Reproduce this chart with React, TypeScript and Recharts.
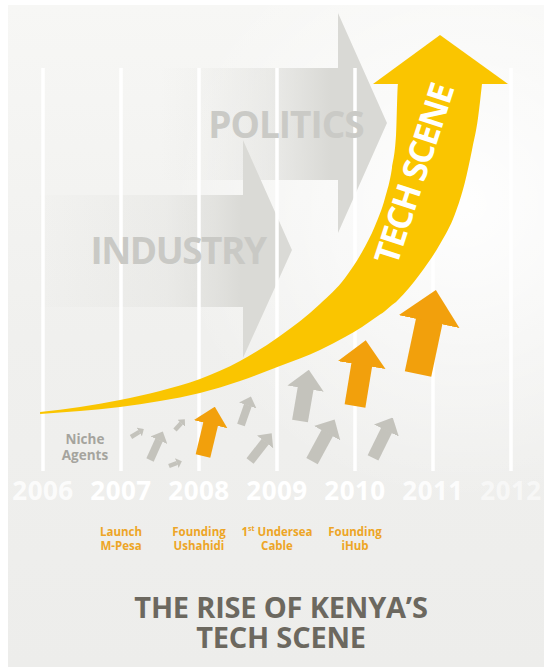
import React from 'react';
import { ComposedChart, Area, Line, XAxis, YAxis, ReferenceDot, Customized } from 'recharts';

// timeline
const years = [2006, 2007, 2008, 2009, 2010, 2011, 2012];
const gridTop = 87.6;

const milestoneYears = [2007, 2008, 2009, 2010];
const milestoneTop = ['Launch', 'Founding', '1st Undersea', 'Founding'];
const milestoneBottom = ['M-Pesa', 'Ushahidi', 'Cable', 'iHub'];

// big background forces (level ranges along the timeline)
const politicsYears = [2007.5, 2009.782, 2009.782, 2010.41];
const politicsLow = [63.26, 63.26, 51.74, 75.65];
const politicsHigh = [87.61, 87.61, 99.57, 75.65];

const industryYears = [2005.96, 2008.564, 2008.564, 2009.192];
const industryLow = [35.65, 35.65, 24.57, 48.04];
const industryHigh = [60.0, 60.0, 71.96, 48.04];

// tech scene curve: lower and upper edge of the band
const techYears = [2005.962, 2006.474, 2006.987, 2007.5, 2008.013, 2008.526, 2009.038, 2009.551, 2009.872, 2010.09, 2010.256, 2010.385, 2010.474, 2010.526, 2010.551, 2010.833, 2011.09, 2011.282, 2011.41, 2011.5, 2011.577, 2011.628];
const techUpper = [12.83, 13.91, 15.43, 17.39, 20.0, 23.91, 29.35, 36.3, 41.96, 47.61, 53.26, 59.35, 65.87, 73.04, 84.13, 84.13, 84.13, 84.13, 84.13, 84.13, 84.13, 84.13];
const techLower = [12.39, 13.04, 13.91, 15.22, 16.96, 19.57, 22.83, 26.3, 29.13, 31.3, 33.26, 34.78, 36.09, 36.74, 37.17, 42.83, 49.35, 55.87, 62.83, 69.78, 76.74, 84.13];

const techHeadYears = [2010.231, 2011.09, 2011.962];
const techHeadLow = [84.13, 84.13, 84.13];
const techHeadHigh = [84.13, 94.78, 84.13];

// small momentum arrows: shaft from -> to (the head is added by a marker)
const arrowKind = ['gray', 'gray', 'gray', 'gray', 'orange', 'gray', 'gray', 'gray', 'gray', 'orange', 'gray', 'orange'];
const arrowFromYear = [2007.128, 2007.372, 2007.692, 2007.615, 2008.051, 2008.538, 2008.654, 2009.295, 2009.449, 2010.0, 2010.231, 2010.808];
const arrowFromLevel = [7.39, 2.39, 8.91, 1.09, 3.26, 10.0, 2.17, 10.87, 2.17, 14.13, 2.83, 21.09];
const arrowToYear = [2007.236, 2007.488, 2007.774, 2007.718, 2008.151, 2008.627, 2008.85, 2009.368, 2009.647, 2010.088, 2010.406, 2010.954];
const arrowToLevel = [8.52, 6.78, 10.43, 1.74, 10.33, 14.33, 6.41, 18.07, 8.33, 23.24, 8.91, 32.76];

// styling
const ARROW_WIDTH = [4.5, 8, 4.5, 4.5, 15, 8, 9, 16, 13, 21, 12, 27];
const YEAR_OPACITY = [0.8, 1, 1, 1, 1, 0.85, 0.55];
const FONT = "'Open Sans', 'DejaVu Sans', sans-serif";
const GRAY = '#c4c3bc';
const ORANGE = '#f2a00c';
const YELLOW = '#fac500';
const EVENT = '#eda526';

const toRange = (xs: number[], lo: number[], hi: number[]) =>
  xs.map((year, i) => ({ year, range: [lo[i], hi[i]] }));

const politicsData = toRange(politicsYears, politicsLow, politicsHigh);
const industryData = toRange(industryYears, industryLow, industryHigh);
const techData = toRange(techYears, techLower, techUpper);
const techHeadData = toRange(techHeadYears, techHeadLow, techHeadHigh);

const YearTick = (props: any) => {
  const { x, y, payload } = props;
  const yr = payload.value;
  const i = years.indexOf(yr);
  const m = milestoneYears.indexOf(yr);
  const top = m >= 0 ? milestoneTop[m] : null;
  return (
    <g>
      <text x={x} y={y + 29} textAnchor="middle" fontFamily={FONT} fontWeight={700} fontSize={26} letterSpacing={0.5} fill="#ffffff" fillOpacity={YEAR_OPACITY[i]}>
        {yr}
      </text>
      {top && (
        <text x={x} y={y + 64.7} textAnchor="middle" fontFamily={FONT} fontWeight={700} fontSize={11.5} fill={EVENT}>
          {top.startsWith('1st') ? (
            <>
              <tspan>1</tspan>
              <tspan fontSize={7} dy={-4.5}>st</tspan>
              <tspan dy={4.5}>{top.slice(3)}</tspan>
            </>
          ) : (
            top
          )}
        </text>
      )}
      {top && (
        <text x={x} y={y + 79} textAnchor="middle" fontFamily={FONT} fontWeight={700} fontSize={11.5} fill={EVENT}>
          {milestoneBottom[m]}
        </text>
      )}
    </g>
  );
};

const Title = () => (
  <g fontFamily={FONT} fontWeight={700} fontSize={29} fill="#6c685f" textAnchor="middle">
    <text x={281} y={618} letterSpacing={-0.2}>THE RISE OF KENYA’S</text>
    <text x={281} y={648} letterSpacing={-0.2}>TECH SCENE</text>
  </g>
);

const bigLabel = (text: string, size: number, spacing: number, color: string, rotate = 0) => (p: any) => (
  <text
    x={p.cx}
    y={p.cy}
    dy="0.36em"
    textAnchor="middle"
    transform={rotate ? `rotate(${rotate} ${p.cx} ${p.cy})` : undefined}
    fontFamily={FONT}
    fontWeight={700}
    fontSize={size}
    letterSpacing={spacing}
    fill={color}
  >
    {text}
  </text>
);

const nicheLabel = (p: any) => (
  <text textAnchor="middle" fontFamily={FONT} fontWeight={700} fontSize={13.5} fill="#a5a49e">
    <tspan x={p.cx} y={p.cy - 2}>Niche</tspan>
    <tspan x={p.cx} y={p.cy + 14}>Agents</tspan>
  </text>
);

export default function App() {
  return (
    <div style={{ position: 'absolute', left: 0, top: 0, width: 544, height: 667, overflow: 'hidden' }}>
      <div
        style={{
          position: 'absolute',
          left: 8,
          top: 5,
          right: 0,
          bottom: 0,
          background:
            'radial-gradient(ellipse 55% 45% at 85% 30%, rgba(255,255,255,0.95), rgba(255,255,255,0) 100%), linear-gradient(180deg, #f7f7f5 0%, #f0f0ee 50%, #ededeb 100%)',
        }}
      />
      <div style={{ position: 'absolute', left: 0, top: 0 }}>
        <ComposedChart width={544} height={667} margin={{ top: 11, right: 1.8, bottom: 166, left: 4 }}>
          <defs>
            <linearGradient id="politicsFade" x1="0" y1="0" x2="1" y2="0">
              <stop offset="0" stopColor="#d9d9d5" stopOpacity={0} />
              <stop offset="0.2" stopColor="#d9d9d5" stopOpacity={0.12} />
              <stop offset="0.5" stopColor="#d9d9d5" stopOpacity={0.45} />
              <stop offset="0.75" stopColor="#d9d9d5" stopOpacity={1} />
            </linearGradient>
            <linearGradient id="industryFade" x1="0" y1="0" x2="1" y2="0">
              <stop offset="0" stopColor="#dadad6" stopOpacity={0.04} />
              <stop offset="0.5" stopColor="#dadad6" stopOpacity={0.3} />
              <stop offset="0.7" stopColor="#dadad6" stopOpacity={0.7} />
              <stop offset="0.8" stopColor="#dadad6" stopOpacity={1} />
            </linearGradient>
            <marker id="head-gray" viewBox="0 0 12 23" refX={0.5} refY={11.5} markerWidth={1.2} markerHeight={2.3} orient="auto" markerUnits="strokeWidth" preserveAspectRatio="none">
              <path d="M0,0 L12,11.5 L0,23 Z" fill={GRAY} />
            </marker>
            <marker id="head-orange" viewBox="0 0 12 23" refX={0.5} refY={11.5} markerWidth={1.2} markerHeight={2.3} orient="auto" markerUnits="strokeWidth" preserveAspectRatio="none">
              <path d="M0,0 L12,11.5 L0,23 Z" fill={ORANGE} />
            </marker>
          </defs>

          <XAxis
            dataKey="year"
            type="number"
            domain={[2005.5, 2012.4]}
            ticks={years}
            axisLine={false}
            tickLine={false}
            tickSize={0}
            tickMargin={0}
            interval={0}
            tick={<YearTick />}
          />
          <YAxis type="number" domain={[0, 100]} hide />

          <Area data={politicsData} dataKey="range" type="linear" fill="url(#politicsFade)" fillOpacity={1} stroke="none" isAnimationActive={false} zIndex={100} />
          <Area data={industryData} dataKey="range" type="linear" fill="url(#industryFade)" fillOpacity={1} stroke="none" isAnimationActive={false} zIndex={100} />

          {years.map((yr) => (
            <Line
              key={`grid-${yr}`}
              data={[{ year: yr, level: 0 }, { year: yr, level: gridTop }]}
              dataKey="level"
              type="linear"
              stroke="#ffffff"
              strokeWidth={3.5}
              dot={false}
              activeDot={false}
              isAnimationActive={false}
              zIndex={150}
            />
          ))}

          <Area data={techData} dataKey="range" type="monotone" fill={YELLOW} fillOpacity={1} stroke="none" isAnimationActive={false} zIndex={200} />
          <Area data={techHeadData} dataKey="range" type="linear" fill={YELLOW} fillOpacity={1} stroke="none" isAnimationActive={false} zIndex={200} />

          {arrowKind.map((kind, i) => (
            <Line
              key={`arrow-${i}`}
              data={[
                { year: arrowFromYear[i], level: arrowFromLevel[i] },
                { year: arrowToYear[i], level: arrowToLevel[i] },
              ]}
              dataKey="level"
              type="linear"
              stroke={kind === 'orange' ? ORANGE : GRAY}
              strokeWidth={ARROW_WIDTH[i]}
              markerEnd={`url(#head-${kind})`}
              dot={false}
              activeDot={false}
              isAnimationActive={false}
              zIndex={400}
            />
          ))}

          <ReferenceDot x={2009.115} y={75.3} r={0} shape={bigLabel('POLITICS', 37, -1, '#cacac6')} zIndex={1000} />
          <ReferenceDot x={2007.731} y={47.83} r={0} shape={bigLabel('INDUSTRY', 37, -1.5, '#c9c9c5')} zIndex={1000} />
          <ReferenceDot x={2010.756} y={64.57} r={0} shape={bigLabel('TECH SCENE', 34, -1.5, '#ffffff', -72)} zIndex={1000} />
          <ReferenceDot x={2006.538} y={5.33} r={0} shape={nicheLabel} zIndex={1000} />

          <Customized component={Title} />
        </ComposedChart>
      </div>
    </div>
  );
}
